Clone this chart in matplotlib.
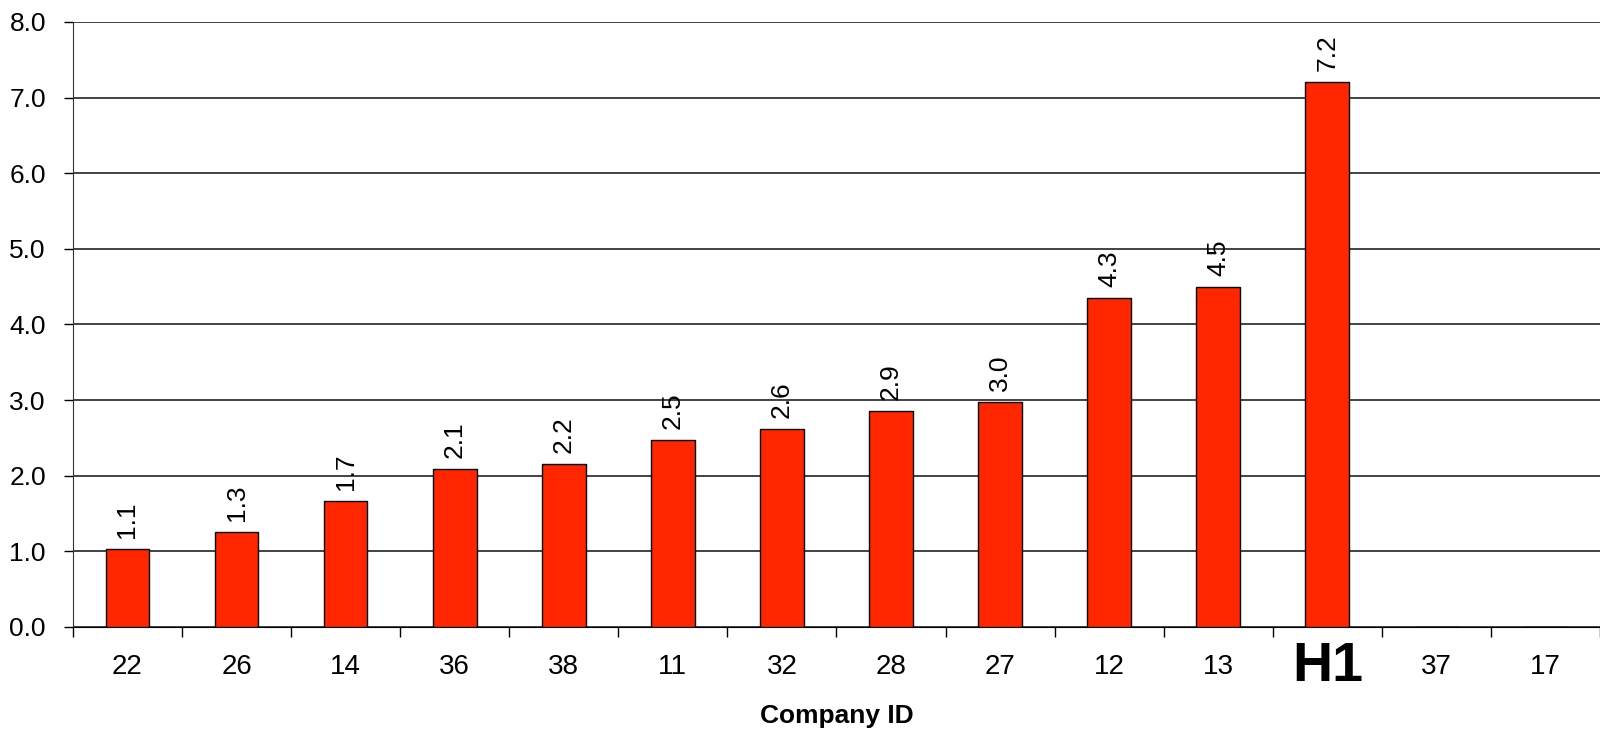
import numpy as np
import matplotlib.pyplot as plt

plt.rcParams['font.family'] = ['Liberation Sans', 'DejaVu Sans']

# company ids along the x axis, bar heights and their printed labels
companies = ['22', '26', '14', '36', '38', '11', '32', '28', '27', '12', '13', 'H1', '37', '17']
values = [1.03, 1.26, 1.67, 2.09, 2.16, 2.47, 2.62, 2.85, 2.97, 4.35, 4.49, 7.21, 0, 0]
value_labels = ['1.1', '1.3', '1.7', '2.1', '2.2', '2.5', '2.6', '2.9', '3.0', '4.3', '4.5', '7.2', '', '']
yticks = [0, 1, 2, 3, 4, 5, 6, 7, 8]

BAR_COLOR = '#FF2600'

fig = plt.figure(figsize=(16, 7.3), dpi=100)
ax = fig.add_axes([0.0456, 0.1411, 0.9544, 0.8288])

x = np.arange(len(companies))
bars = ax.bar(x, values, width=0.4, color=BAR_COLOR, edgecolor='black', linewidth=1, zorder=3)

for b, lab in zip(bars, value_labels):
    if not lab:
        continue
    ax.annotate(lab, (b.get_x() + b.get_width() / 2, b.get_height()),
                xytext=(0, 8), textcoords='offset points',
                rotation=90, ha='center', va='bottom', fontsize=19)

ax.set_xlim(-0.5, len(companies) - 0.5)
ax.set_ylim(0, 8)
ax.set_yticks(yticks)
ax.set_yticklabels([f'{v:.1f}' for v in yticks], fontsize=19)
ax.yaxis.grid(True, color='#222222', linewidth=1.2, zorder=0)
ax.tick_params(axis='y', direction='out', length=6.5, width=1, pad=13)

# tick marks between categories, labels at centres
ax.set_xticks(np.arange(len(companies) + 1) - 0.5)
ax.set_xticklabels([])
ax.tick_params(axis='x', which='major', direction='out', length=7, width=1)
ax.set_xticks(x, minor=True)
ax.set_xticklabels(companies, minor=True, fontsize=20)
ax.tick_params(axis='x', which='minor', length=0, pad=29)
for t in ax.get_xticklabels(minor=True):
    t.set_va('center')
    if t.get_text() == 'H1':
        t.set_fontsize(40)
        t.set_fontweight('bold')

ax.set_xlabel('Company ID', fontsize=19, fontweight='bold', labelpad=8)

for s in ['top', 'right']:
    ax.spines[s].set_visible(False)
ax.spines['left'].set_color('#333333')
ax.spines['bottom'].set_color('black')

fig.savefig('out.png', dpi=100)
